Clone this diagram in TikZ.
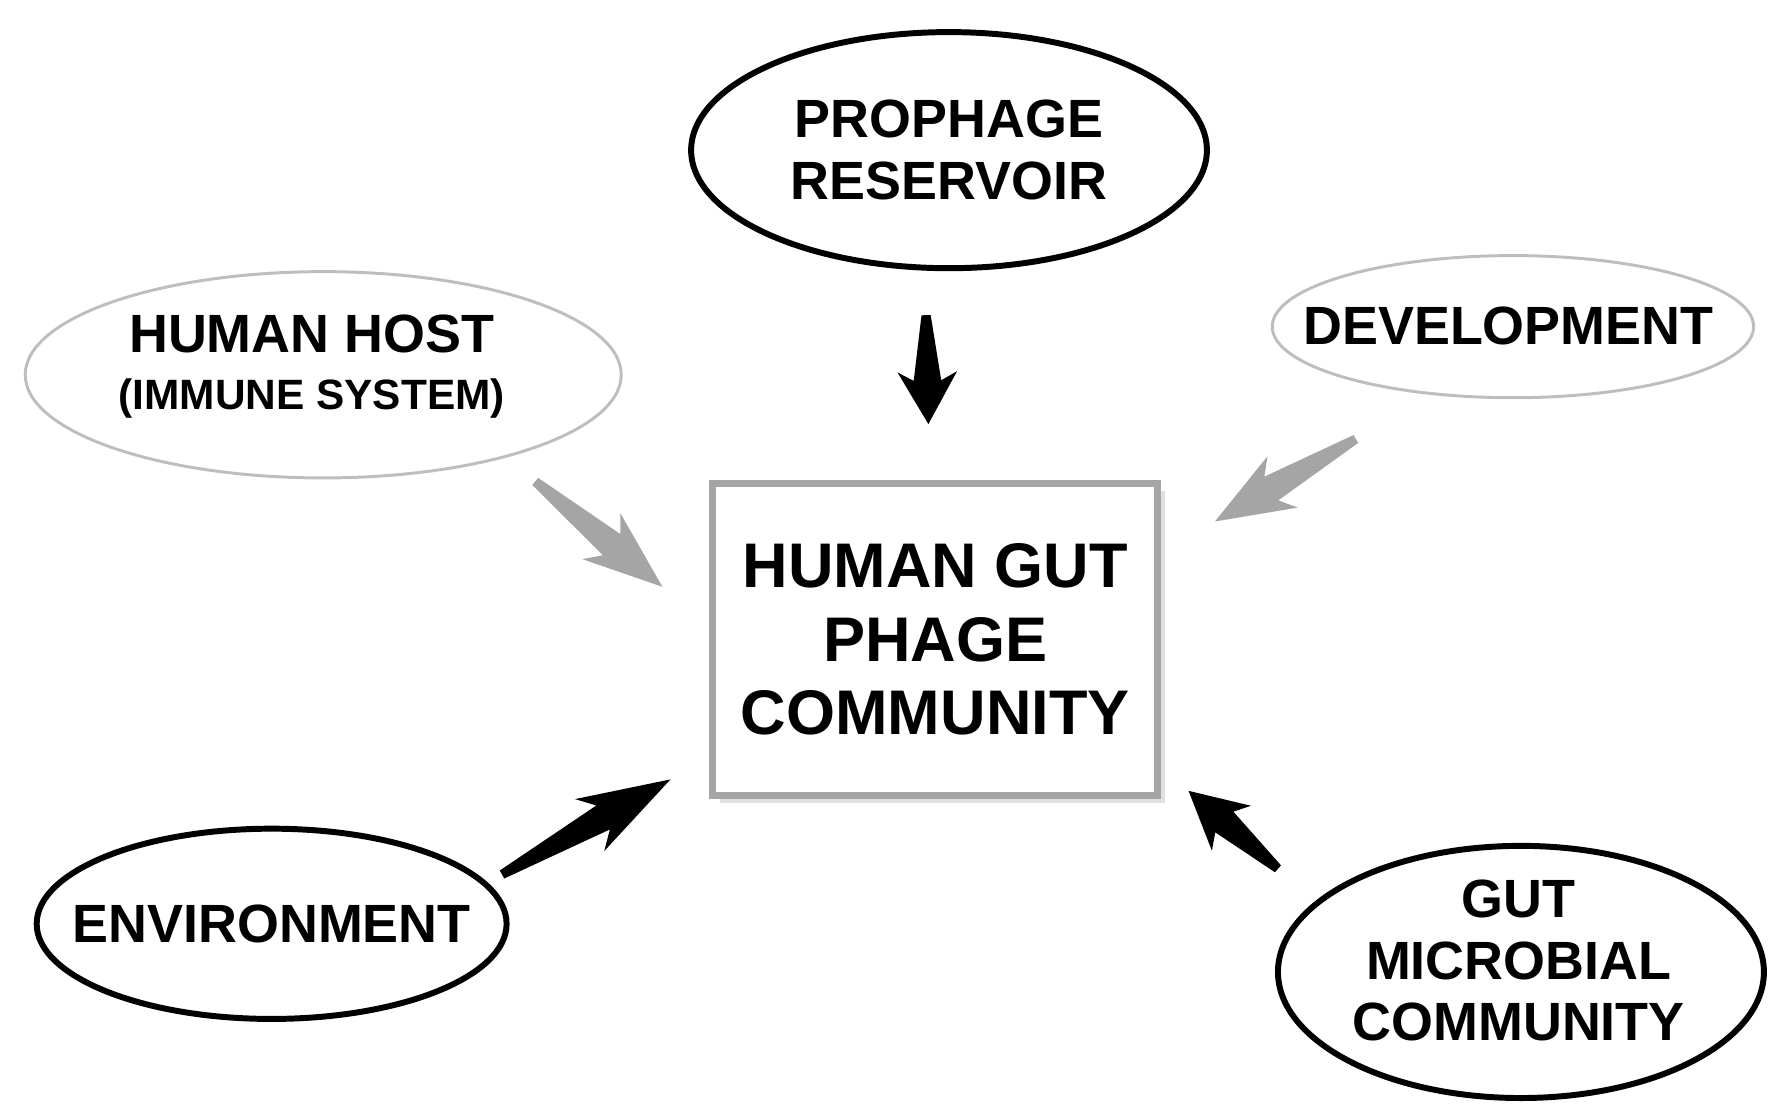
\documentclass[tikz,border=0pt]{standalone}
\usepackage{fontspec}
\setmainfont{Liberation Sans}
\usetikzlibrary{calc,shapes.geometric}
\definecolor{lg}{RGB}{190,190,190}
\definecolor{ag}{RGB}{165,165,165}
\begin{document}
\begin{tikzpicture}[x=0.5pt,y=-0.5pt,
  lab/.style={align=center,font=\bfseries\fontsize{23.5}{27}\selectfont,inner sep=0pt},
  eb/.style={draw=black,line width=2.6pt},
  eg/.style={draw=lg,line width=1.3pt},
  box/.style={draw=ag,line width=3pt,align=center,font=\bfseries\fontsize{27.5}{32}\selectfont,minimum width=194pt,minimum height=136pt,fill=white}]
\useasboundingbox (0,0) rectangle (1560,975);
\newcommand\wedgearr[3]{%
  \fill[#3] ($(#1)!2pt!90:(#2)$) -- ($(#1)!0.6!(#2)!6pt!90:(#2)$) -- ($(#1)!0.52!(#2)!13pt!90:(#2)$) -- (#2)
  -- ($(#1)!0.52!(#2)!13pt!-90:(#2)$) -- ($(#1)!0.6!(#2)!6pt!-90:(#2)$) -- ($(#1)!2pt!-90:(#2)$) -- cycle;}
\node[lab] (pro) at (828,131) {PROPHAGE\\RESERVOIR};
\draw[eb] (pro.center) ellipse [x radius=112.5pt, y radius=51.5pt];
\node[lab] (host) at (272,320) {HUMAN HOST\\[-2pt]{\fontsize{18.5}{21}\selectfont(IMMUNE SYSTEM)}};
\draw[eg] (282,327) ellipse [x radius=130pt, y radius=45pt];
\node[lab] (dev) at (1316,284) {DEVELOPMENT};
\draw[eg] (1320,285) ellipse [x radius=105pt, y radius=31pt];
\node[lab] (env) at (237,806) {ENVIRONMENT};
\draw[eb] (env.center) ellipse [x radius=102.5pt, y radius=41.5pt];
\node[lab] (gut) at (1325,838) {GUT\\MICROBIAL\\COMMUNITY};
\draw[eb] (1327,848) ellipse [x radius=106pt, y radius=55pt];
\fill[black!12] (628,428) rectangle (1016,701);
\node[box] (core) at (816,558) {HUMAN GUT\\PHAGE\\COMMUNITY};
\coordinate (a1) at (808,275); \coordinate (b1) at (810,370);
\coordinate (a2) at (467,420); \coordinate (b2) at (578,512);
\coordinate (a3) at (1183,383); \coordinate (b3) at (1060,455);
\coordinate (a4) at (438,763); \coordinate (b4) at (585,680);
\coordinate (a5) at (1115,758); \coordinate (b5) at (1037,690);
\wedgearr{a1}{b1}{black}
\wedgearr{a2}{b2}{ag}
\wedgearr{a3}{b3}{ag}
\wedgearr{a4}{b4}{black}
\wedgearr{a5}{b5}{black}
\end{tikzpicture}
\end{document}
